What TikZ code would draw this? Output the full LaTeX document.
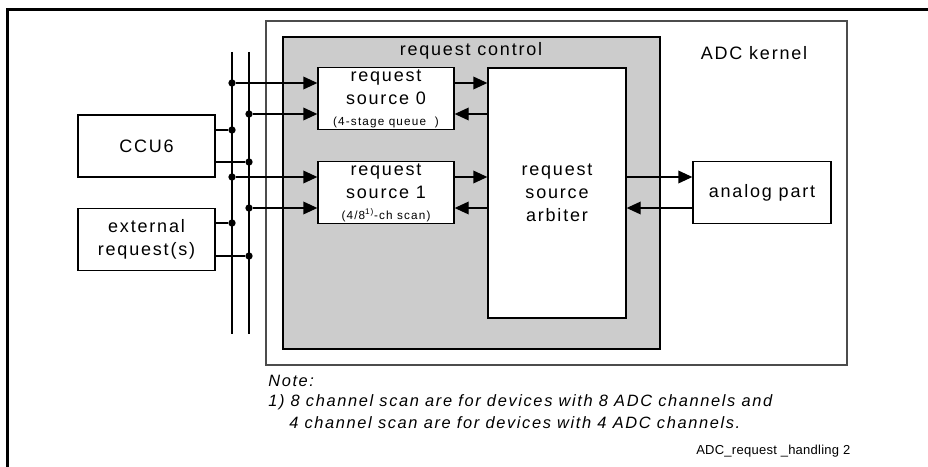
\documentclass[tikz,border=0pt]{standalone}
\usepackage{fontspec}
\setmainfont[LetterSpace=10]{Liberation Sans}
\usetikzlibrary{arrows.meta}

\newcommand{\bigtxt}{\fontsize{13.5}{17.25}\selectfont}
\newcommand{\smalltxt}{\fontsize{8.8}{9}\selectfont}

\begin{document}
\begin{tikzpicture}[x=0.75pt, y=-0.75pt, line join=miter, >={Triangle[length=10.5pt,width=9.5pt]},
	box/.style={draw, line width=1pt, fill=white, minimum width=102.75pt, minimum height=46.5pt, inner sep=0pt, align=center, font=\bigtxt},
	wire/.style={line width=1pt},
	dot/.style={circle, fill, inner sep=0pt, minimum size=5.5pt},
	notetxt/.style={anchor=west, font=\fontsize{12.3}{14}\selectfont\itshape, inner sep=0pt}]
	\useasboundingbox (0,0) rectangle (928,467);
	\draw[line width=2.25pt] (7,467) -- (7,10) -- (928,10);
	% ADC kernel and request control
	\draw[draw=black!70, line width=0.8pt] (266,21) rectangle (847,365);
	\draw[fill=gray!40, line width=0.8pt] (283,37) rectangle (660,349);
	\node[font=\bigtxt] (ctrl) at (471,51) {request control};
	\node[font=\bigtxt] (kern) at (754,53) {ADC kernel};
	% blocks
	\node[box] (ccu) at (146.5,146) {CCU6};
	\node[box] (ext) at (146.5,239.5) {external\\request(s)};
	\node[box, minimum width=102pt] (rs0) at (386,98.5) {request\\source 0\\[-1.5pt]{\smalltxt (4-stage queue\ \ )}};
	\node[box, minimum width=102pt] (rs1) at (386,192.5) {request\\source 1\\[-1.5pt]{\smalltxt (4/8\textsuperscript{1)}-ch scan)}};
	\node[box, minimum height=187.5pt, minimum width=103.5pt] (arb) at (557,193) {request\\source\\arbiter};
	\node[box, minimum width=103.5pt] (ana) at (762,192.5) {analog part};
	% bus
	\draw[wire] (232,52) -- (232,334);
	\draw[wire] (249,52) -- (249,334);
	\node[dot] (d1) at (232,83) {};
	\node[dot] (d2) at (249,114) {};
	\node[dot] (d3) at (232,130) {};
	\node[dot] (d4) at (249,162) {};
	\node[dot] (d5) at (232,177) {};
	\node[dot] (d6) at (249,208) {};
	\node[dot] (d7) at (232,223) {};
	\node[dot] (d8) at (249,256) {};
	% connections
	\draw[wire] (ccu.east |- d3) -- (d3);
	\draw[wire] (ccu.east |- d4) -- (d4);
	\draw[wire] (ext.east |- d7) -- (d7);
	\draw[wire] (ext.east |- d8) -- (d8);
	\draw[wire,->] (d1) -- (d1 -| rs0.west);
	\draw[wire,->] (d2) -- (d2 -| rs0.west);
	\draw[wire,->] (d5) -- (d5 -| rs1.west);
	\draw[wire,->] (d6) -- (d6 -| rs1.west);
	\draw[wire,->] (rs0.east |- d1) -- (arb.west |- d1);
	\draw[wire,->] (arb.west |- d2) -- (rs0.east |- d2);
	\draw[wire,->] (rs1.east |- d5) -- (arb.west |- d5);
	\draw[wire,->] (arb.west |- d6) -- (rs1.east |- d6);
	\draw[wire,->] (arb.east |- d5) -- (ana.west |- d5);
	\draw[wire,->] (ana.west |- d6) -- (arb.east |- d6);
	% note
	\node[notetxt] (note) at (268,381) {Note:};
	\node[notetxt] (note1) at (268,402) {1) 8 channel scan are for devices with 8 ADC channels and};
	\node[notetxt] (note2) at (289,423) {4 channel scan are for devices with 4 ADC channels.};
	\node[anchor=west, font=\fontsize{9.75}{11}\selectfont\addfontfeature{LetterSpace=2}, inner sep=0pt] (fig) at (696,451) {ADC\_request \_handling 2};
\end{tikzpicture}
\end{document}
